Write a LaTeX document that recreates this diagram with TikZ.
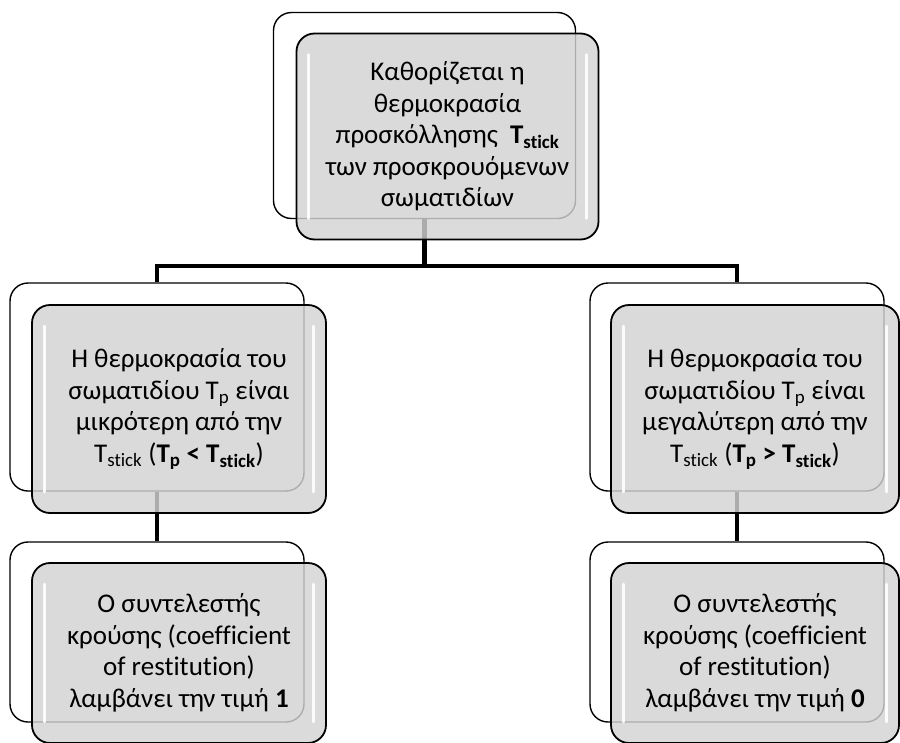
\documentclass[tikz,border=0pt]{standalone}
\usepackage{fontspec}
\setmainfont{Carlito}[Ligatures=NoCommon]
\usepackage{xcolor}
\usetikzlibrary{calc}
\usetikzlibrary{positioning}

\definecolor{boxgray}{HTML}{D3D3D3}

\tikzset{
  backbox/.style={draw=black, line width=1.4pt, fill=white, rounded corners=18pt,
    minimum width=294pt, minimum height=206pt},
  frontbox/.style={draw=black, line width=1.8pt, fill=boxgray, fill opacity=0.82,
    text opacity=1, rounded corners=18pt, minimum width=294pt, minimum height=206pt,
    align=center, inner sep=0pt, font=\fontsize{27}{31.5}\selectfont},
  link/.style={line width=4.5pt},
  shine/.style={white, line width=3pt, line cap=round, opacity=0.9}
}

\begin{document}
\begin{tikzpicture}[x=1pt, y=-1pt]
  \clip (0,0) rectangle (900,742);
  \useasboundingbox (0,0) rectangle (900,742);

  % back boxes
  \node[backbox, minimum width=302pt] (topback) at (424.5,115.5) {};
  \node[backbox, minimum height=208pt] (lmback) at (157,387) {};
  \node[backbox, minimum height=208pt] (rmback) at (737,387) {};
  \node[backbox, minimum height=180pt] (lbback) at (157,632) {};
  \node[backbox, minimum height=180pt] (rbback) at (737,632) {};

  % connectors
  \coordinate (bar) at (424.5,266);
  \draw[link] (topback.south) -- (topback.south |- bar) -| (lmback.north);
  \draw[link] (topback.south |- bar) -| (rmback.north);
  \draw[link] (lmback.south) -- (lbback.north);
  \draw[link] (rmback.south) -- (rbback.north);

  % front boxes
  \node[frontbox, minimum width=302pt] (topfront) at ($(topback)+(23,21)$)
    {Καθορίζεται η\\θερμοκρασία\\προσκόλλησης~ \textbf{T\textsubscript{stick}}\\των προσκρουόμενων\\σωματιδίων};
  \node[frontbox, minimum height=208pt] (lmfront) at ($(lmback)+(22,22)$)
    {Η θερμοκρασία του\\σωματιδίου T\textsubscript{p} είναι\\μικρότερη από την\\T\textsubscript{stick} (\textbf{T\textsubscript{p} < T\textsubscript{stick}})};
  \node[frontbox, minimum height=208pt, minimum width=288pt] (rmfront) at ($(rmback)+(18,22)$)
    {Η θερμοκρασία του\\σωματιδίου T\textsubscript{p} είναι\\μεγαλύτερη από την\\T\textsubscript{stick} (\textbf{T\textsubscript{p} > T\textsubscript{stick}})};
  \node[frontbox, minimum height=180pt] (lbfront) at ($(lbback)+(22,21)$)
    {Ο συντελεστής\\κρούσης (coefficient\\of restitution)\\λαμβάνει την τιμή \textbf{1}};
  \node[frontbox, minimum height=180pt, minimum width=288pt] (rbfront) at ($(rbback)+(18,21)$)
    {Ο συντελεστής\\κρούσης (coefficient\\of restitution)\\λαμβάνει την τιμή \textbf{0}};

  % shine on the front boxes
  \foreach \b in {topfront, lmfront, rmfront, lbfront, rbfront} {
    \draw[shine] ($(\b.north west)+(13,22)$) -- ($(\b.south west)+(13,-22)$);
    \draw[shine] ($(\b.north east)+(-13,22)$) -- ($(\b.south east)+(-13,-22)$);
  }
\end{tikzpicture}
\end{document}
